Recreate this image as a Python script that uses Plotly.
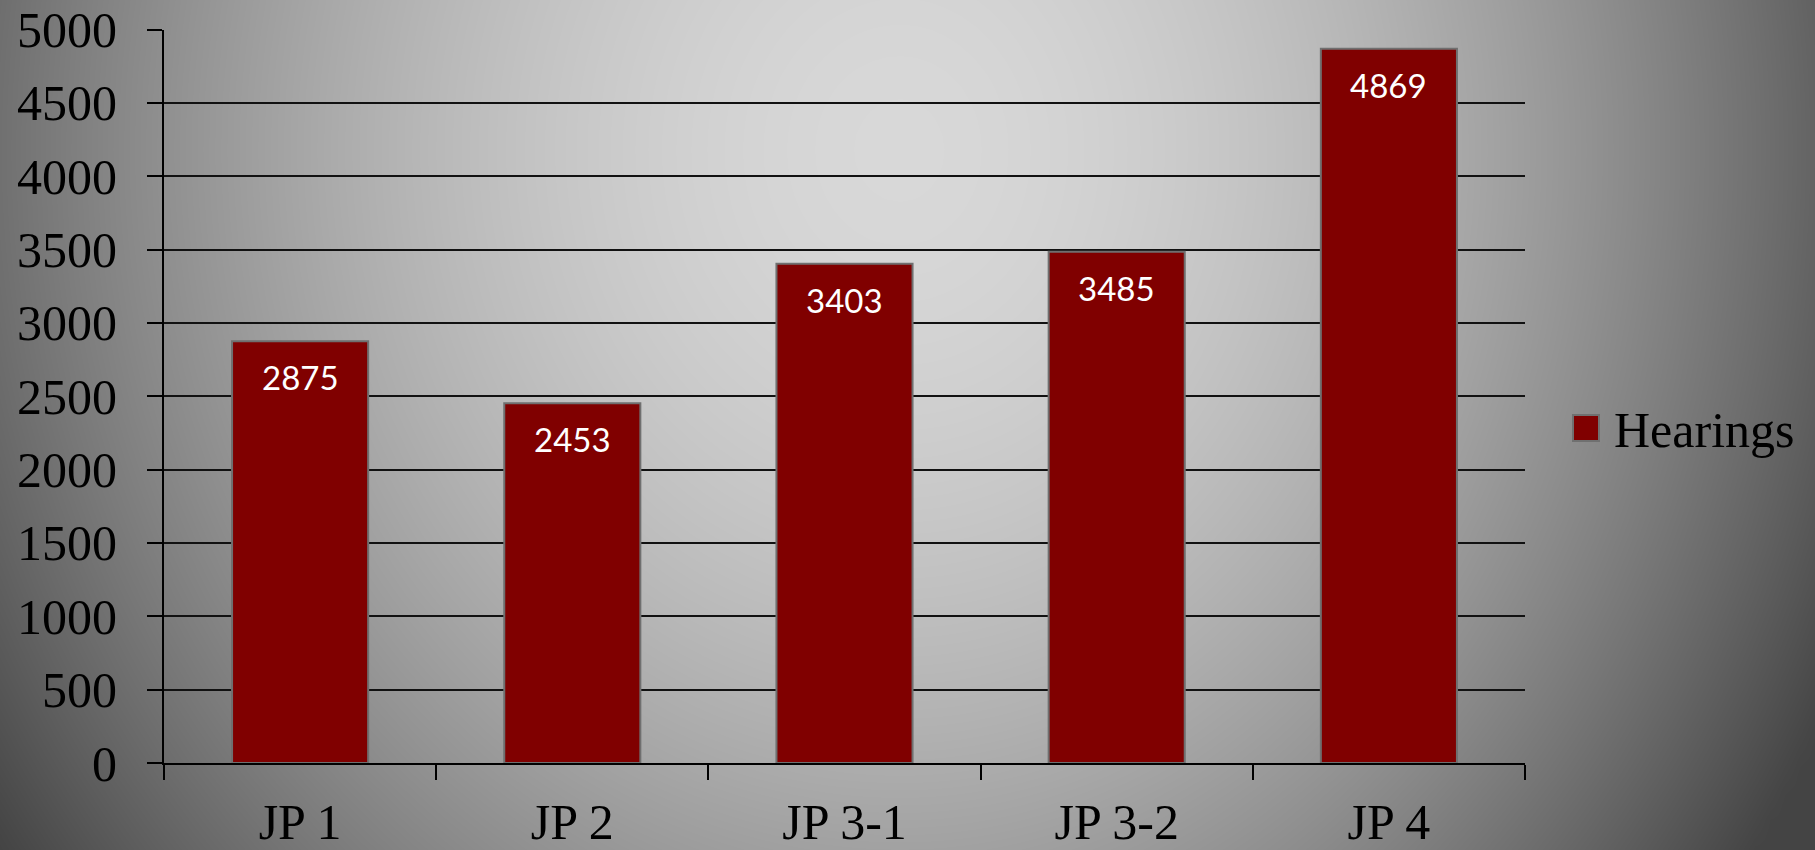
import numpy as np
import plotly.graph_objects as go

# ---- data ----
categories = ["JP 1", "JP 2", "JP 3-1", "JP 3-2", "JP 4"]
hearings = [2875, 2453, 3403, 3485, 4869]
series_name = "Hearings"
y_tick_values = [0, 500, 1000, 1500, 2000, 2500, 3000, 3500, 4000, 4500, 5000]

W, H = 1815, 850
BAR_COLOR = "#800000"
SERIF = "Liberation Serif, Times New Roman, serif"
SANS = "Lato, Open Sans, sans-serif"

# ---- radial grey background (decoration) ----
gx = np.linspace(-30, W + 30, 126)
gy = np.linspace(-30, H + 30, 62)
XX, YY = np.meshgrid(gx, gy)
cx, cy = 900.0, 150.0
dx = XX - cx
dx = np.where(dx > 0, dx * 1.05, dx)
dy = (YY - cy) * 0.9
r = np.sqrt(dx ** 2 + dy ** 2)
bg = 216 - 40 * (r / 530.0) ** 1.8
bg = np.clip(bg, 68, 216)

fig = go.Figure()
fig.add_trace(go.Heatmap(
    x=gx, y=gy, z=bg, zmin=0, zmax=255, zsmooth="best",
    colorscale=[[0, "rgb(0,0,0)"], [1, "rgb(255,255,255)"]],
    showscale=False, hoverinfo="skip", xaxis="x", yaxis="y",
))

fig.add_trace(go.Bar(
    x=categories, y=hearings, name=series_name,
    marker=dict(color=BAR_COLOR, line=dict(color="#6f6f6f", width=2)),
    width=0.5, xaxis="x2", yaxis="y2", showlegend=False,
))

# data labels
annotations = []
for c, v in zip(categories, hearings):
    annotations.append(dict(
        x=c, y=v, xref="x2", yref="y2", text=str(v), showarrow=False,
        yanchor="top", yshift=-14,
        font=dict(family=SANS, size=33, color="white"),
    ))

# manual legend (large square marker like the reference)
annotations.append(dict(
    x=1612 / W, y=1 - 430 / H, xref="paper", yref="paper",
    xanchor="left", yanchor="middle", text=series_name, showarrow=False,
    font=dict(family=SERIF, size=50, color="black"),
))
shapes = [dict(
    type="rect", xref="paper", yref="paper",
    x0=1573 / W, x1=1599 / W, y0=1 - 441 / H, y1=1 - 415 / H,
    fillcolor=BAR_COLOR, line=dict(color="#707070", width=2),
)]

fig.update_layout(
    width=W, height=H,
    margin=dict(l=0, r=0, t=0, b=0, autoexpand=False),
    paper_bgcolor="#777777",
    plot_bgcolor="rgba(0,0,0,0)",
    showlegend=False,
    bargap=0.5,
    xaxis=dict(domain=[0, 1], range=[0, W], visible=False, fixedrange=True,
               automargin=False),
    yaxis=dict(domain=[0, 1], range=[H, 0], visible=False, fixedrange=True,
               automargin=False),
    xaxis2=dict(
        domain=[164 / W, 1525 / W], anchor="y2", automargin=False,
        showline=True, linecolor="black", linewidth=2,
        ticks="outside", ticklen=15, tickwidth=2, tickcolor="black",
        tickson="boundaries", showgrid=False,
        tickfont=dict(family=SERIF, size=50, color="black"),
        ticklabelstandoff=14,
    ),
    yaxis2=dict(
        domain=[1 - 763 / H, 1 - 29.5 / H], anchor="x2", automargin=False,
        range=[0, 5000], tickvals=y_tick_values,
        showline=True, linecolor="black", linewidth=2,
        ticks="outside", ticklen=15, tickwidth=2, tickcolor="black",
        showgrid=True, gridcolor="#111111", gridwidth=2, zeroline=False,
        tickfont=dict(family=SERIF, size=50, color="black"),
        ticklabelstandoff=20,
    ),
    annotations=annotations,
    shapes=shapes,
)

fig.write_html(
    "out.html",
    config={"displayModeBar": False},
    post_script="document.body.style.margin='0';document.body.style.overflow='hidden';",
)
